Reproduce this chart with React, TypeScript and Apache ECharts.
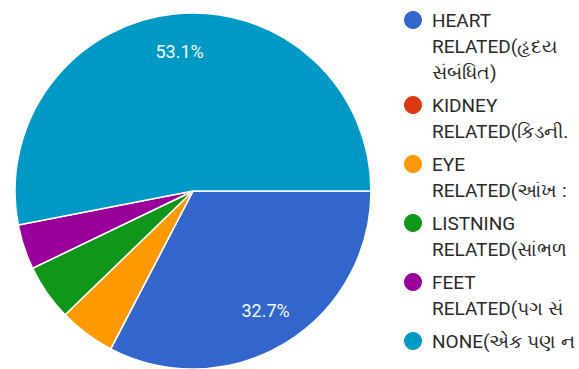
import React, { useEffect, useRef } from "react";
import * as echarts from "echarts";

const categories = [
  "HEART\nRELATED(હૃદય\nસંબંધિત)",
  "KIDNEY\nRELATED(કિડની.",
  "EYE\nRELATED(આંખ :",
  "LISTNING\nRELATED(સાંભળ",
  "FEET\nRELATED(પગ સં",
  "NONE(એક પણ ન",
];
const values = [32, 0, 5, 5, 4, 52];
const colors = ["#3366cc", "#dc3912", "#ff9900", "#109618", "#990099", "#0099c6"];

export default function App() {
  const ref = useRef<HTMLDivElement>(null);
  useEffect(() => {
    if (!ref.current) return;
    const chart = echarts.init(ref.current, undefined, { renderer: "svg" });
    const total = values.reduce((a, b) => a + b, 0);
    const pct = values.map((v) => Math.round((v / total) * 1000) / 10);
    const data = categories.map((c, i) => ({
      name: c,
      value: values[i],
      itemStyle: { color: colors[i] },
    }));
    const labelData = categories.map((c, i) => ({
      name: c,
      value: values[i],
      label: { show: pct[i] >= 10, formatter: pct[i].toFixed(1) + "%" },
    }));

    const cx = 193;
    const cy = 191;
    const R = 178;

    const lh = 26;
    const gap = 7;
    const legendEls: any[] = [];
    let y = 20;
    categories.forEach((c, i) => {
      const lines = c.split("\n");
      legendEls.push({
        type: "circle",
        shape: { cx: 413, cy: y, r: 9 },
        style: { fill: colors[i] },
      });
      lines.forEach((ln, k) => {
        legendEls.push({
          type: "text",
          x: 432,
          y: y + k * lh,
          style: {
            text: ln,
            fill: "#2b2b2b",
            font: '19px Roboto, "Noto Sans", sans-serif',
            verticalAlign: "middle",
            align: "left",
          },
        });
      });
      y += lines.length * lh + gap;
    });

    chart.setOption({
      animation: false,
      backgroundColor: "#ffffff",
      graphic: legendEls,
      series: [
        {
          type: "pie",
          center: [cx, cy],
          radius: [0, R],
          startAngle: 0,
          clockwise: true,
          silent: true,
          label: { show: false },
          labelLine: { show: false },
          itemStyle: { borderColor: "#ffffff", borderWidth: 1.5 },
          data,
        },
        {
          type: "pie",
          center: [cx, cy],
          radius: [96, R],
          startAngle: 0,
          clockwise: true,
          silent: true,
          itemStyle: { color: "transparent", borderWidth: 0 },
          label: {
            position: "inside",
            color: "#f4fbfd",
            fontSize: 18,
            fontFamily: "Roboto, sans-serif",
          },
          labelLine: { show: false },
          data: labelData,
        },
      ],
    });
    return () => chart.dispose();
  }, []);
  return (
    <div
      ref={ref}
      style={{ position: "fixed", left: 0, top: 0, width: 579, height: 369, background: "#fff" }}
    />
  );
}
